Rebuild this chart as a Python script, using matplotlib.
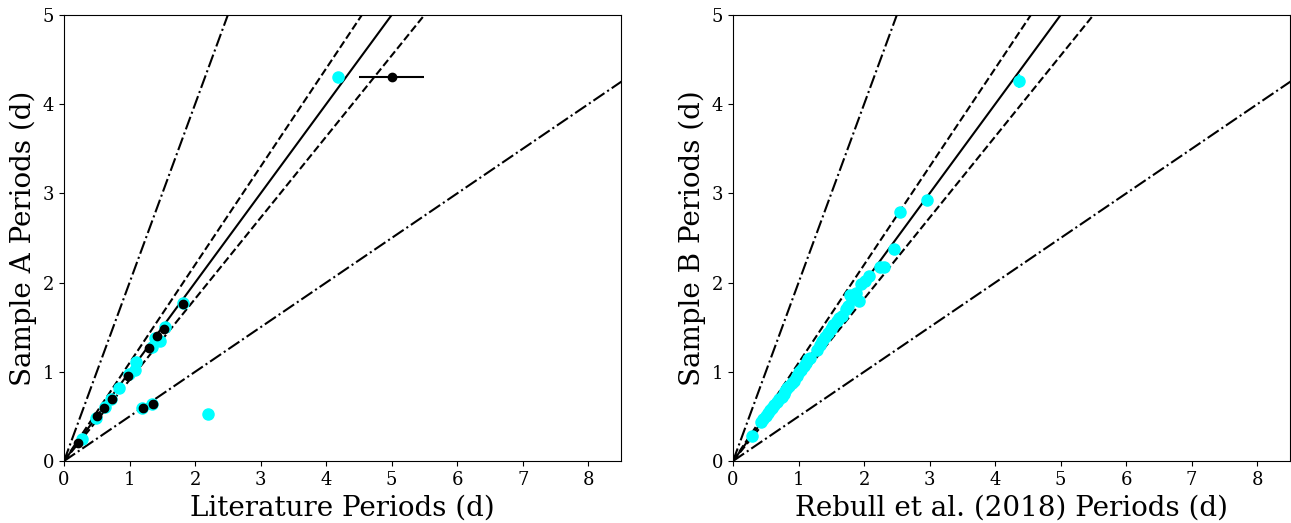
import matplotlib
matplotlib.use("Agg")
import matplotlib.pyplot as plt
import numpy as np

plt.rcParams['font.family'] = ['DejaVu Serif']

# Left panel: cyan (literature vs sample A)
lit_cyan_x = [0.27, 0.49, 0.63, 0.72, 0.845, 0.99, 1.08, 1.10, 1.34, 1.39, 1.47, 1.54, 1.82, 1.19, 1.35, 2.19, 4.18]
lit_cyan_y = [0.25, 0.48, 0.61, 0.70, 0.82, 0.97, 1.02, 1.11, 1.28, 1.38, 1.34, 1.50, 1.77, 0.59, 0.64, 0.53, 4.30]
# Left panel: black (with x errors)
lit_blk_x = [0.22, 0.51, 0.615, 0.73, 0.98, 1.30, 1.42, 1.53, 1.81, 1.21, 1.36, 5.0]
lit_blk_y = [0.20, 0.50, 0.60, 0.70, 0.95, 1.27, 1.40, 1.48, 1.76, 0.59, 0.64, 4.30]
lit_blk_xerr = [0.02, 0.02, 0.02, 0.02, 0.02, 0.02, 0.02, 0.02, 0.02, 0.02, 0.02, 0.5]

# Right panel: Rebull et al. (2018) vs sample B
reb_x = [0.29, 0.42, 0.46, 0.50, 0.53, 0.57, 0.60, 0.63, 0.67, 0.70, 0.74, 0.78, 0.80,
         0.83, 0.86, 0.90, 0.93, 0.97, 1.00, 1.04, 1.08, 1.12, 1.15, 1.18, 1.28, 1.32,
         1.36, 1.40, 1.45, 1.50, 1.53, 1.58, 1.62, 1.67, 1.72, 1.75, 1.78, 1.82, 1.88,
         1.92, 1.95, 2.02, 2.08, 2.25, 2.30, 2.45, 2.55, 2.96, 4.37]
reb_y = [0.28, 0.44, 0.47, 0.50, 0.54, 0.57, 0.60, 0.63, 0.66, 0.69, 0.72, 0.75, 0.79,
         0.82, 0.84, 0.88, 0.90, 0.95, 1.00, 1.02, 1.06, 1.10, 1.14, 1.16, 1.24, 1.30,
         1.35, 1.39, 1.44, 1.48, 1.52, 1.57, 1.60, 1.63, 1.70, 1.74, 1.86, 1.82, 1.88,
         1.79, 1.98, 2.02, 2.07, 2.18, 2.17, 2.38, 2.79, 2.93, 4.26]
reb_yerr = [0.02] * 48 + [0.08]

# reference lines: slope, linestyle
ref_slopes = [1.0, 1.1, 1 / 1.1, 2.0, 0.5]
ref_styles = ['-', '--', '--', '-.', '-.']

fig = plt.figure(figsize=(12.91, 5.23), dpi=100)
axL = fig.add_axes([0.0496, 0.1185, 0.4314, 0.8528])
axR = fig.add_axes([0.5678, 0.1185, 0.4314, 0.8528])

xx = np.linspace(0, 10, 50)
for ax in (axL, axR):
    for s, ls in zip(ref_slopes, ref_styles):
        ax.plot(xx, s * xx, color='black', linestyle=ls, lw=1.5, zorder=1)

axL.plot(lit_cyan_x, lit_cyan_y, 'o', color='cyan', ms=8, zorder=2)
axL.errorbar(lit_blk_x, lit_blk_y, xerr=lit_blk_xerr, fmt='o', color='black',
             ms=6, lw=1.5, zorder=3)

axR.errorbar(reb_x, reb_y, yerr=reb_yerr, fmt='o', color='cyan', ms=8, lw=1.5, zorder=2)

for ax, xl, yl in ((axL, 'Literature Periods (d)', 'Sample A Periods (d)'),
                   (axR, 'Rebull et al. (2018) Periods (d)', 'Sample B Periods (d)')):
    ax.set_xlim(0, 8.5)
    ax.set_ylim(0, 5)
    ax.set_xticks(range(0, 9))
    ax.set_yticks(range(0, 6))
    ax.tick_params(labelsize=13)
    ax.set_xlabel(xl, fontsize=20)
    ax.set_ylabel(yl, fontsize=20)

fig.savefig('out.png', dpi=100)
